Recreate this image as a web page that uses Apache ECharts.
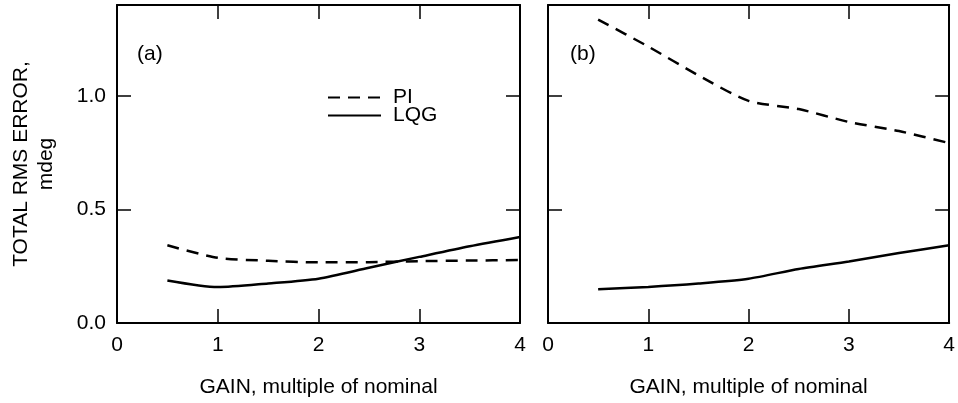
<!DOCTYPE html>
<html>
<head>
<meta charset="utf-8">
<script src="https://cdn.jsdelivr.net/npm/echarts@6/dist/echarts.min.js"></script>
<style>
html,body{margin:0;padding:0;background:#fff;}
#chart{width:958px;height:403px;}
</style>
</head>
<body>
<div id="chart"></div>
<script>
// ---- data ----
var gain = [0.5, 1, 1.5, 2, 2.5, 3, 3.5, 4];
var piA  = [0.342, 0.287, 0.274, 0.267, 0.268, 0.272, 0.275, 0.277];
var lqgA = [0.187, 0.158, 0.174, 0.195, 0.243, 0.291, 0.338, 0.379];
var piB  = [1.336, 1.217, 1.090, 0.978, 0.942, 0.885, 0.845, 0.792];
var lqgB = [0.149, 0.159, 0.174, 0.195, 0.238, 0.271, 0.308, 0.342];
var seriesNames = ['PI', 'LQG'];
var panelLabels = ['(a)', '(b)'];
var xAxisTitle = 'GAIN, multiple of nominal';
var yAxisTitle = 'TOTAL RMS ERROR,\nmdeg';

function pairs(xs, ys) { return xs.map(function (x, i) { return [x, ys[i]]; }); }

var FONT = 'Liberation Sans, Arial, sans-serif';
var FS = 21;
var lineCol = '#000';

function xAx(grid, pos, showLabels, name) {
  return {
    type: 'value', gridIndex: grid, position: pos, min: 0, max: 4, interval: 1,
    axisLine: { show: true, onZero: false, lineStyle: { color: lineCol, width: 2 } },
    axisTick: { show: true, inside: true, length: 14, lineStyle: { color: lineCol, width: 1.5 } },
    axisLabel: { show: showLabels, color: '#000', fontFamily: FONT, fontSize: FS, margin: 12 },
    splitLine: { show: false },
    name: name || '', nameLocation: 'middle', nameGap: 54,
    nameTextStyle: { color: '#000', fontFamily: FONT, fontSize: FS }
  };
}
function yAx(grid, pos, showLabels, name) {
  return {
    type: 'value', gridIndex: grid, position: pos, min: 0, max: 1.4, interval: 0.5,
    axisLine: { show: true, onZero: false, lineStyle: { color: lineCol, width: 2 } },
    axisTick: { show: true, inside: true, length: 14, lineStyle: { color: lineCol, width: 1.5 } },
    axisLabel: { show: showLabels, showMaxLabel: false, color: '#000', fontFamily: FONT, fontSize: FS, margin: 11,
      formatter: function (v) { return v.toFixed(1); } },
    splitLine: { show: false },
    name: name || '', nameLocation: 'middle', nameGap: 58, nameRotate: 90,
    nameTextStyle: { color: '#000', fontFamily: FONT, fontSize: FS, lineHeight: 25, align: 'center' }
  };
}

var dashed = { color: '#000', width: 2.5, type: [12, 8] };
var solid = { color: '#000', width: 2.5, type: 'solid' };

function ser(name, grid, data, ls) {
  return {
    name: name, type: 'line', xAxisIndex: grid * 2, yAxisIndex: grid * 2,
    data: data, showSymbol: false, symbol: 'none', smooth: 0.25,
    lineStyle: ls, itemStyle: { color: '#000' }, silent: true, animation: false
  };
}

var chart = echarts.init(document.getElementById('chart'), null, { renderer: 'canvas' });
chart.setOption({
  backgroundColor: '#fff',
  animation: false,
  grid: [
    { left: 117, top: 5, width: 403, height: 318 },
    { left: 548, top: 5, width: 404, height: 318 }
  ],
  xAxis: [
    xAx(0, 'bottom', true, xAxisTitle), xAx(0, 'top', false),
    xAx(1, 'bottom', true, xAxisTitle), xAx(1, 'top', false)
  ],
  yAxis: [
    yAx(0, 'left', true, yAxisTitle), yAx(0, 'right', false),
    yAx(1, 'left', false), yAx(1, 'right', false)
  ],
  legend: {
    orient: 'vertical', left: 327, top: 87, padding: 0,
    itemWidth: 53, itemHeight: 14, itemGap: -3,
    data: seriesNames,
    itemStyle: { opacity: 0 },
    textStyle: { color: '#000', fontFamily: FONT, fontSize: FS, padding: [0, 0, 0, 7] },
    selectedMode: false
  },
  graphic: [
    { type: 'text', left: 137, top: 44, style: { text: panelLabels[0], font: FS + 'px ' + FONT, fill: '#000' } },
    { type: 'text', left: 570, top: 44, style: { text: panelLabels[1], font: FS + 'px ' + FONT, fill: '#000' } }
  ],
  series: [
    ser(seriesNames[0], 0, pairs(gain, piA), dashed),
    ser(seriesNames[1], 0, pairs(gain, lqgA), solid),
    ser(seriesNames[0], 1, pairs(gain, piB), dashed),
    ser(seriesNames[1], 1, pairs(gain, lqgB), solid)
  ]
});
</script>
</body>
</html>
